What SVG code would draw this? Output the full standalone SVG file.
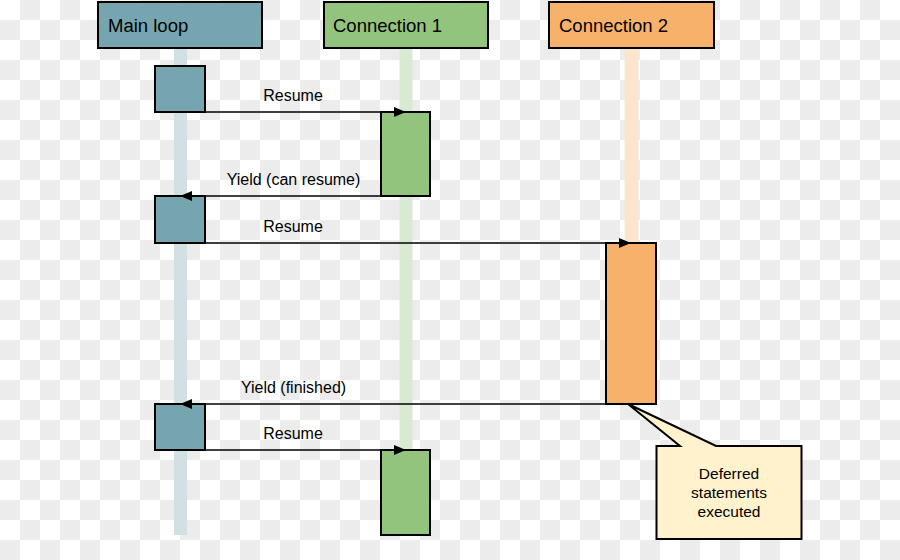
<svg xmlns="http://www.w3.org/2000/svg" width="900" height="560" viewBox="0 0 900 560">
  <defs>
    <pattern id="checker" x="0" y="0" width="40" height="40" patternUnits="userSpaceOnUse">
      <rect width="40" height="40" fill="#ffffff"/>
      <rect x="20" y="0" width="20" height="20" fill="#ececec"/>
      <rect x="0" y="20" width="20" height="20" fill="#ececec"/>
    </pattern>
    <marker id="arrow" markerUnits="userSpaceOnUse" markerWidth="12" markerHeight="10" refX="12" refY="5" orient="auto">
      <path d="M0,0 L12,5 L0,10 Z" fill="#000"/>
    </marker>
    <style>
      .hdr { stroke: #000; stroke-width: 2; }
      .act { stroke: #000; stroke-width: 2; }
      .main { fill: #76a5af; }
      .c1 { fill: #93c47d; }
      .c2 { fill: #f6b26b; }
      .htext { font-family: "Liberation Sans", Arial, sans-serif; font-size: 18.5px; fill: #000; }
      .lbl { font-family: "Liberation Sans", Arial, sans-serif; font-size: 16px; fill: #000; text-anchor: middle; }
      .note { font-family: "Liberation Sans", Arial, sans-serif; font-size: 15.5px; fill: #000; text-anchor: middle; }
      .msg { stroke: #000; stroke-width: 1.6; fill: none; marker-end: url(#arrow); }
    </style>
  </defs>
  <rect width="900" height="560" fill="url(#checker)"/>

  <g id="lifelines">
    <rect x="174" y="48" width="13" height="487" fill="#d0e0e3"/>
    <rect x="399.5" y="48" width="13" height="487" fill="#d9ead3"/>
    <rect x="624.5" y="48" width="14" height="195" fill="#fce5cd"/>
  </g>

  <g id="main-loop">
    <rect class="hdr main" x="98" y="2" width="164" height="46"/>
    <text class="htext" x="108" y="32">Main loop</text>
  </g>
  <g id="connection-1">
    <rect class="hdr c1" x="324" y="2" width="164" height="46"/>
    <text class="htext" x="333" y="32">Connection 1</text>
  </g>
  <g id="connection-2">
    <rect class="hdr c2" x="549" y="2" width="165" height="46"/>
    <text class="htext" x="559" y="32">Connection 2</text>
  </g>

  <g id="main-act-1"><rect class="act main" x="155" y="66" width="50" height="46"/></g>
  <g id="c1-act-1"><rect class="act c1" x="381" y="112" width="49" height="84"/></g>
  <g id="main-act-2"><rect class="act main" x="155" y="196" width="50" height="47"/></g>
  <g id="c2-act-1"><rect class="act c2" x="606" y="243" width="50" height="161"/></g>
  <g id="main-act-3"><rect class="act main" x="155" y="404" width="50" height="46"/></g>
  <g id="c1-act-2"><rect class="act c1" x="381" y="450" width="49" height="85"/></g>

  <g id="connectors">
    <line class="msg" x1="180" y1="112" x2="406" y2="112"/>
    <line class="msg" x1="406" y1="196" x2="180" y2="196"/>
    <line class="msg" x1="180" y1="243" x2="631" y2="243"/>
    <line class="msg" x1="631" y1="404" x2="180" y2="404"/>
    <line class="msg" x1="180" y1="450" x2="406" y2="450"/>
    <text class="lbl" x="293" y="101">Resume</text>
    <text class="lbl" x="293.5" y="185">Yield (can resume)</text>
    <text class="lbl" x="293" y="232">Resume</text>
    <text class="lbl" x="293.5" y="393">Yield (finished)</text>
    <text class="lbl" x="293" y="439">Resume</text>
  </g>

  <g id="deferred-note">
    <path d="M656.5,446 L680,446 L628,404 L716,446 L801.5,446 L801.5,539 L656.5,539 Z" fill="#fff2cc" stroke="#000" stroke-width="2" stroke-linejoin="miter"/>
    <text class="note" x="729" y="479">Deferred</text>
    <text class="note" x="729" y="498">statements</text>
    <text class="note" x="729" y="517">executed</text>
  </g>
</svg>
